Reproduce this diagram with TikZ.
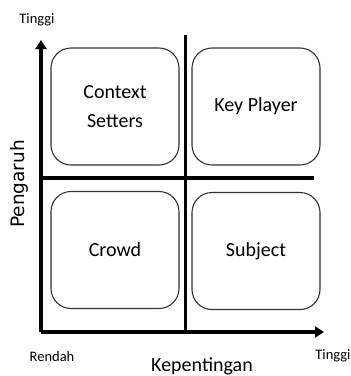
\documentclass[tikz,border=0pt]{standalone}
\usepackage{fontspec}
\setmainfont{Carlito}
\newfontfamily\pengfont{DejaVu Sans}
\usetikzlibrary{arrows.meta,positioning}
\tikzset{>={Triangle[length=9pt,width=11pt]}}
\tikzset{
  quad/.style={draw=black!80, line width=1.1pt, rounded corners=20pt,
    minimum width=128pt, minimum height=117pt, inner sep=0pt,
    align=center, font=\fontsize{20}{29}\selectfont},
  axisline/.style={line width=4.5pt, ->},
  divider/.style={line width=4pt},
  small label/.style={inner sep=0pt, font=\fontsize{14.5}{17}\selectfont}
}

\begin{document}
\begin{tikzpicture}[x=1pt,y=-1pt]
  \useasboundingbox (0,0) rectangle (351,376);
  \coordinate (O) at (41,332);
  \coordinate (xend) at (324,332);
  \coordinate (yend) at (41,40);
  \coordinate (hl) at (41,178);
  \coordinate (hr) at (314,178);
  \coordinate (vt) at (185,35);
  \coordinate (vb) at (185,332);
  % quadrants
  \node[quad] (setters) at (115,106.5) {Context\\Setters};
  \node[quad] (player) at (256,106.5) {Key Player};
  \node[quad] (crowd) at (115,250) {Crowd};
  \node[quad] (subject) at (256,251) {Subject};
  % dividers and axes
  \draw[divider] (hl) -- (hr);
  \draw[divider, line width=3pt] (vt) -- (vb);
  \draw[axisline] (O) -- (xend);
  \draw[axisline] (O) -- (yend);
  % labels
  \node[small label] (ytop) at (37,20) {Tinggi};
  \node[small label] (xlow) at (52,357) {Rendah};
  \node[small label] (xhigh) at (333,356) {Tinggi};
  \node[inner sep=0pt, font=\fontsize{20}{24}\selectfont] (xname) at (202,366) {Kepentingan};
  \node[inner sep=0pt, rotate=90, font=\pengfont\fontsize{18.5}{22}\selectfont] (yname) at (19,184) {Pengaruh};
\end{tikzpicture}
\end{document}
